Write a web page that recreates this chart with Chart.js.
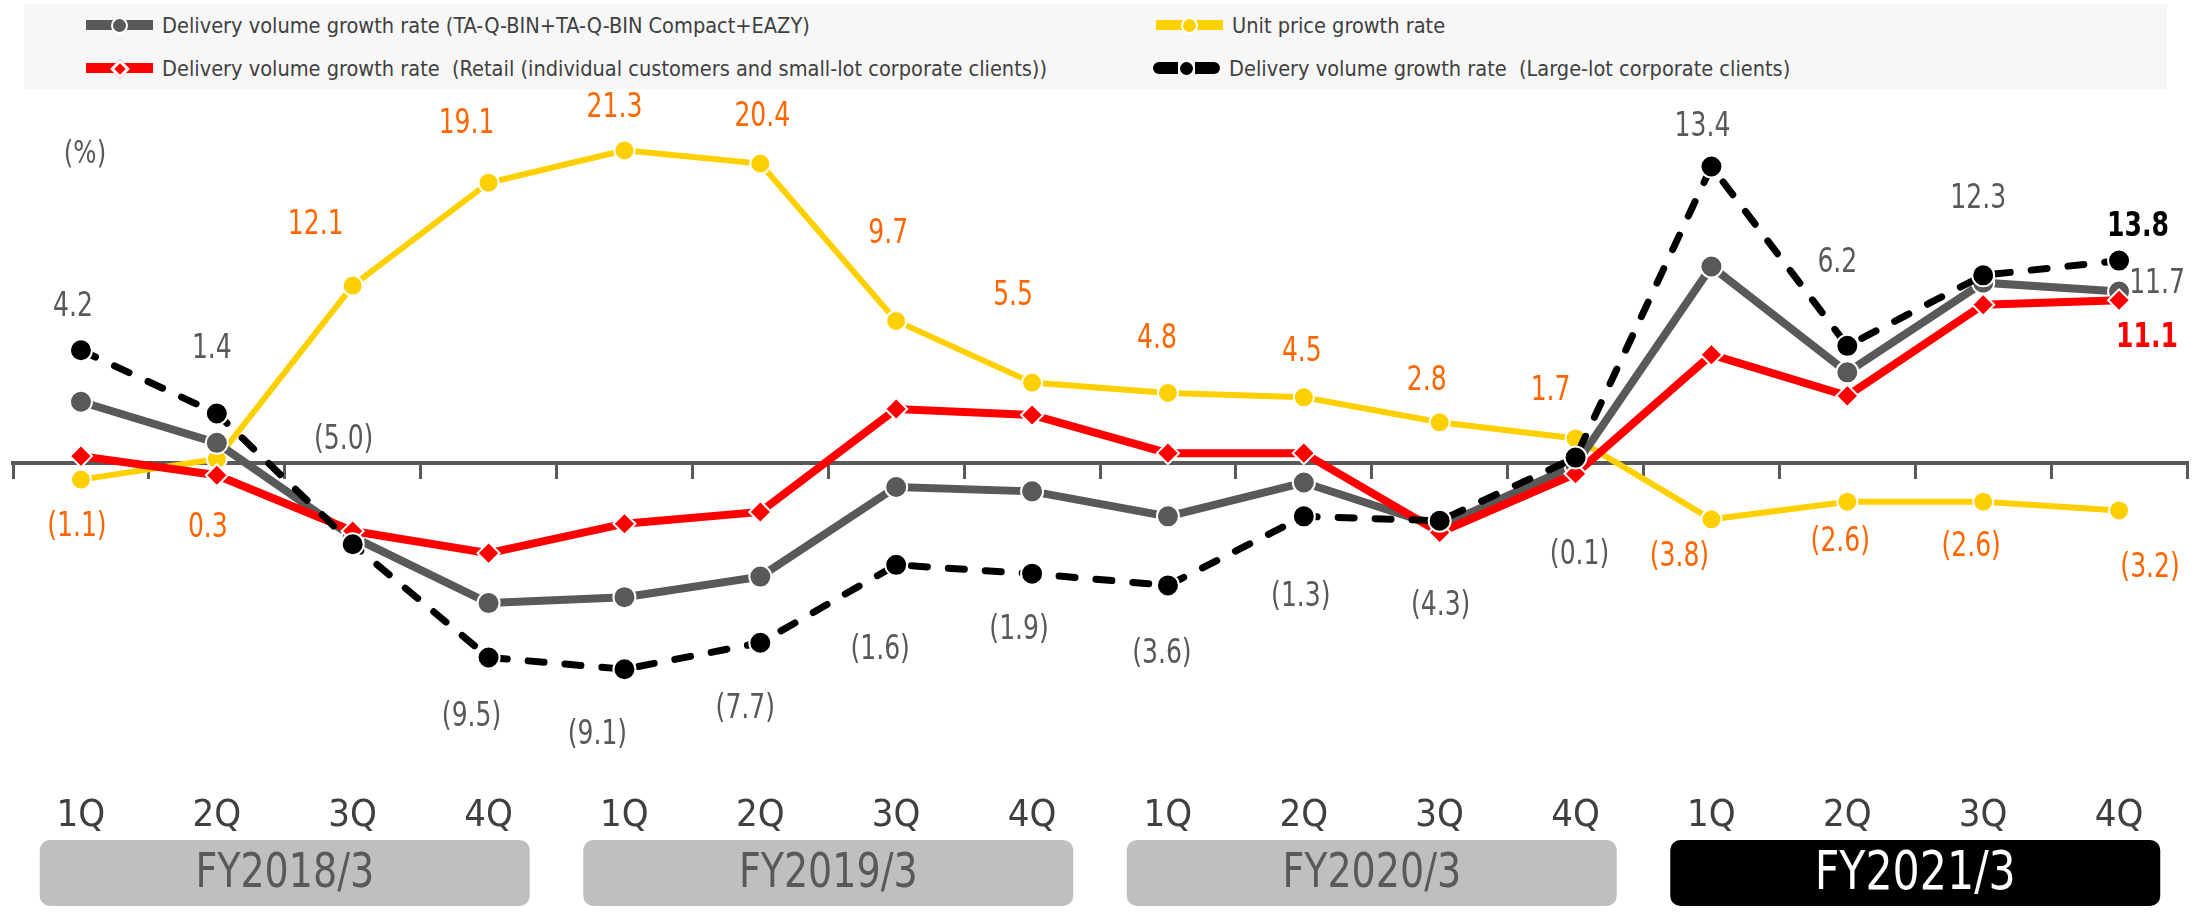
<!DOCTYPE html>
<html>
<head>
<meta charset="utf-8">
<script src="https://cdn.jsdelivr.net/npm/chart.js@4.4.0/dist/chart.umd.min.js"></script>
<style>
  body { margin: 0; background: #fff; }
  #wrap { position: relative; width: 2200px; height: 913px; }
  #legend {
    position: absolute; left: 24px; top: 4px; width: 2143px; height: 85px;
    background: #f7f7f7;
    font-family: 'DejaVu Sans Condensed', 'DejaVu Sans', sans-serif;
    font-size: 22px; color: #404040;
  }
  .item { position: absolute; display: flex; align-items: center; height: 30px; white-space: pre; }
  .item span.t { display: inline-block; transform: scaleX(0.98); transform-origin: left center; }
  .sw { position: relative; display: inline-block; width: 67px; height: 30px; margin-right: 9px; }
  .sw i { position: absolute; left: 0; right: 0; top: 10px; height: 10px; }
  .sw b { position: absolute; left: 25px; top: 7px; width: 13px; height: 13px; border: 2px solid #fff; border-radius: 50%; }
  .sw-gray i, .sw-gray b { background: #595959; }
  .sw-yellow i, .sw-yellow b { background: #ffd000; }
  .sw-red i { background: #ff0000; }
  .sw-red b { background: #ff0000; border-radius: 0; width: 8px; height: 8px; left: 27px; top: 9px; border-width: 3px; transform: rotate(45deg); }
  .sw-black i { background: linear-gradient(to right, #000 0 38%, transparent 38% 62%, #000 62% 100%); border-radius: 6px; height: 12px; top: 9px; }
  .sw-black b { background: #000; }
  #chart { position: absolute; left: 0; top: 0; }
</style>
</head>
<body>
<div id="wrap">
  <canvas id="chart" width="2200" height="913"></canvas>
  <div id="legend">
    <div class="item" style="left:62px;top:6px"><span class="sw sw-gray"><i></i><b></b></span><span class="t">Delivery volume growth rate (TA-Q-BIN+TA-Q-BIN Compact+EAZY)</span></div>
    <div class="item" style="left:62px;top:49px"><span class="sw sw-red"><i></i><b></b></span><span class="t">Delivery volume growth rate  (Retail (individual customers and small-lot corporate clients))</span></div>
    <div class="item" style="left:1132px;top:6px"><span class="sw sw-yellow"><i></i><b></b></span><span class="t">Unit price growth rate</span></div>
    <div class="item" style="left:1129px;top:49px"><span class="sw sw-black"><i></i><b></b></span><span class="t">Delivery volume growth rate  (Large-lot corporate clients)</span></div>
  </div>
</div>
<script>
// 四半期とその年度
var quarters = ['1Q', '2Q', '3Q', '4Q', '1Q', '2Q', '3Q', '4Q', '1Q', '2Q', '3Q', '4Q', '1Q', '2Q', '3Q', '4Q'];
var fiscalYears = ['FY2018/3', 'FY2019/3', 'FY2020/3', 'FY2021/3'];

// 伸び率 (%)
var totalVolume = [4.2, 1.4, -5.0, -9.5, -9.1, -7.7, -1.6, -1.9, -3.6, -1.3, -4.3, -0.1, 13.4, 6.2, 12.3, 11.7];
var unitPrice = [-1.1, 0.3, 12.1, 19.1, 21.3, 20.4, 9.7, 5.5, 4.8, 4.5, 2.8, 1.7, -3.8, -2.6, -2.6, -3.2];
var retailVolume = [0.5, -0.8, -4.6, -6.1, -4.1, -3.3, 3.7, 3.3, 0.7, 0.7, -4.7, -0.7, 7.4, 4.6, 10.8, 11.1];
var largeLotVolume = [7.7, 3.4, -5.5, -13.2, -14.0, -12.2, -6.9, -7.5, -8.3, -3.6, -3.9, 0.4, 20.2, 8.0, 12.8, 13.8];

var FONT = "'DejaVu Sans Condensed', 'DejaVu Sans', sans-serif";

// ラベル位置 (点からのずれ, px)
var totalLabelPos = [[-8, -95], [-5, -94], [-9, -97], [-17, 114], [-27, 138], [-15, 133], [-16, 163], [-13, 139],
                     [-6, 138], [-3, 115], [1, 80], [4, 90], [-9, -139], [-10, -109], [-5, -83], [38, -7]];
var priceLabelPos = [[-4, 48], [-9, 69], [-37, -60], [-22, -59], [-10, -42], [2, -46], [-8, -87], [-19, -86],
                     [-11, -54], [-2, -45], [-13, -41], [-25, -47], [-32, 38], [-7, 41], [-12, 46], [31, 58]];
var retailLabelPos = [null, null, null, null, null, null, null, null, null, null, null, null, null, null, null, [28, 38]];
var largeLabelPos = [null, null, null, null, null, null, null, null, null, null, null, null, null, null, null, [19, -33]];

function fmt(v) {
    return v < 0 ? '(' + Math.abs(v).toFixed(1) + ')' : v.toFixed(1);
}

// 横に少し詰めて文字を書く
function narrowText(ctx, text, x, y, sx) {
    ctx.save();
    ctx.translate(x, y);
    ctx.scale(sx, 1);
    ctx.fillText(text, 0, 0);
    ctx.restore();
}

var valueLabels = {
    id: 'valueLabels',
    afterDatasetsDraw(chart) {
        var ctx = chart.ctx;
        ctx.save();
        ctx.textAlign = 'center';
        ctx.textBaseline = 'middle';
        chart.data.datasets.forEach(function (ds, i) {
            var meta = chart.getDatasetMeta(i);
            meta.data.forEach(function (pt, j) {
                var off = ds.labelPos[j];
                if (!off) return;
                ctx.font = (ds.labelBold ? 'bold ' : '') + '34px ' + FONT;
                ctx.fillStyle = ds.labelColor;
                narrowText(ctx, fmt(ds.data[j]), pt.x + off[0], pt.y + off[1], 0.82);
            });
        });
        // 単位
        ctx.font = '32px ' + FONT;
        ctx.fillStyle = '#595959';
        narrowText(ctx, '(%)', chart.chartArea.left + 72, 155, 0.85);
        ctx.restore();
    }
};

var yearBoxes = {
    id: 'yearBoxes',
    afterDraw(chart) {
        var ctx = chart.ctx;
        var xs = chart.scales.x;
        ctx.save();
        ctx.textAlign = 'center';
        ctx.textBaseline = 'middle';
        fiscalYears.forEach(function (fy, g) {
            var cx = (xs.getPixelForValue(g * 4) + xs.getPixelForValue(g * 4 + 3)) / 2;
            var last = g === fiscalYears.length - 1;
            ctx.fillStyle = last ? '#000000' : '#bfbfbf';
            ctx.beginPath();
            ctx.roundRect(cx - 245, 840, 490, 66, 10);
            ctx.fill();
            ctx.fillStyle = last ? '#ffffff' : '#595959';
            ctx.font = (last ? '54px ' : '48px ') + FONT;
            narrowText(ctx, fy, cx, 875, 0.88);
        });
        ctx.restore();
    }
};

var ctx = document.getElementById('chart').getContext('2d');
new Chart(ctx, {
    type: 'line',
    data: {
        labels: quarters,
        datasets: [{
            label: 'Delivery volume growth rate  (Large-lot corporate clients)',
            data: largeLotVolume,
            order: 1,
            borderColor: '#000000',
            borderWidth: 7,
            borderDash: [16, 21],
            borderCapStyle: 'round',
            pointRadius: 11,
            pointBackgroundColor: '#000000',
            pointBorderColor: '#ffffff',
            pointBorderWidth: 2,
            labelPos: largeLabelPos,
            labelColor: '#000000',
            labelBold: true
        }, {
            label: 'Delivery volume growth rate  (Retail (individual customers and small-lot corporate clients))',
            data: retailVolume,
            order: 2,
            borderColor: '#ff0000',
            borderWidth: 8,
            pointStyle: 'rectRot',
            pointRadius: 11,
            pointBackgroundColor: '#ff0000',
            pointBorderColor: '#ffffff',
            pointBorderWidth: 2,
            labelPos: retailLabelPos,
            labelColor: '#ff0000',
            labelBold: true
        }, {
            label: 'Delivery volume growth rate (TA-Q-BIN+TA-Q-BIN Compact+EAZY)',
            data: totalVolume,
            order: 3,
            borderColor: '#595959',
            borderWidth: 8,
            pointRadius: 11,
            pointBackgroundColor: '#595959',
            pointBorderColor: '#ffffff',
            pointBorderWidth: 2,
            labelPos: totalLabelPos,
            labelColor: '#595959'
        }, {
            label: 'Unit price growth rate',
            data: unitPrice,
            order: 4,
            borderColor: '#ffd000',
            borderWidth: 6,
            pointRadius: 10,
            pointBackgroundColor: '#ffd000',
            pointBorderColor: '#ffffff',
            pointBorderWidth: 2,
            labelPos: priceLabelPos,
            labelColor: '#ff6600'
        }]
    },
    options: {
        responsive: false,
        animation: false,
        layout: { padding: { top: 96, left: 12, right: 7, bottom: 38 } },
        plugins: {
            legend: { display: false },
            tooltip: { enabled: false }
        },
        scales: {
            y: { display: false, min: -20, max: 25 },
            x: {
                position: { y: 0 },
                offset: true,
                grid: { offset: true, drawOnChartArea: false, drawTicks: true, tickLength: 14, color: '#595959', lineWidth: 3 },
                border: { display: true, color: '#595959', width: 4 },
                ticks: { display: false }
            },
            xq: {
                type: 'category',
                position: 'bottom',
                offset: true,
                grid: { display: false, drawTicks: false },
                border: { display: false },
                ticks: {
                    color: '#404040',
                    padding: 36,
                    maxRotation: 0,
                    autoSkip: false,
                    font: { family: FONT, size: 38 }
                }
            }
        }
    },
    plugins: [valueLabels, yearBoxes]
});
</script>
</body>
</html>
